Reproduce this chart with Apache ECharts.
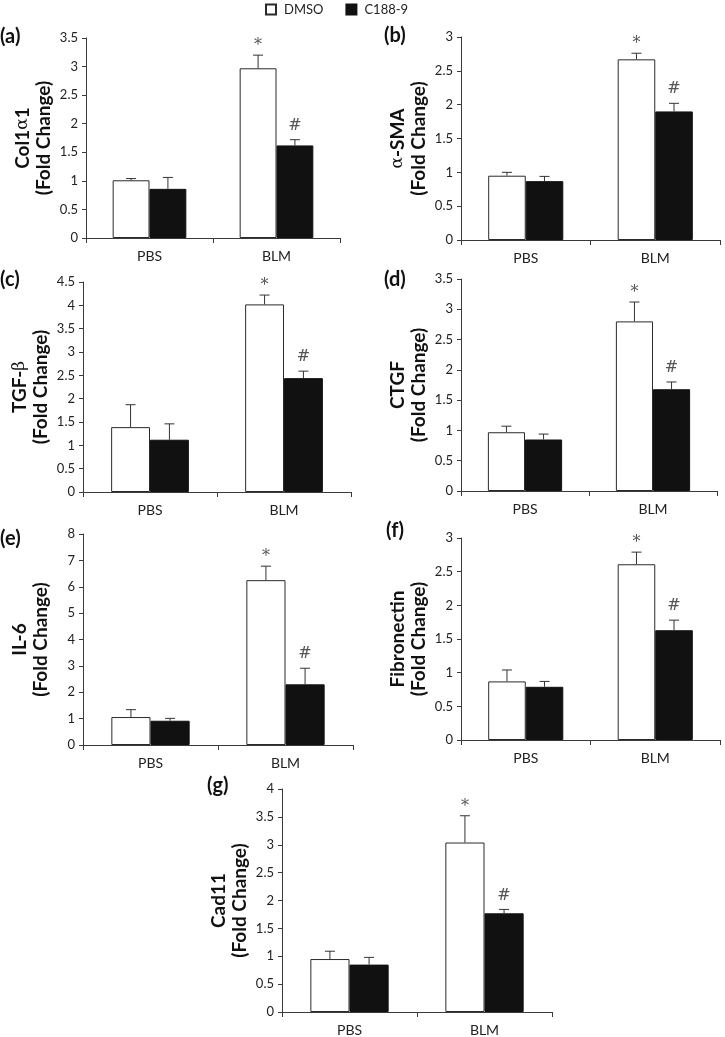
<!DOCTYPE html>
<html>
<head>
<meta charset="utf-8">
<script src="https://cdn.jsdelivr.net/npm/echarts@6/dist/echarts.min.js"></script>
<style>
html,body{margin:0;padding:0;background:#fff;}
#chart{width:725px;height:1037px;}
</style>
</head>
<body>
<div id="chart"></div>
<script>
// ---- data ----
const categories = ['PBS', 'BLM'];
const seriesNames = ['DMSO', 'C188-9'];
const panelLabels = ['(a)', '(b)', '(c)', '(d)', '(e)', '(f)', '(g)'];
const geneNames = ['Col1', 'α-SMA', 'TGF-β', 'CTGF', 'IL-6', 'Fibronectin', 'Cad11'];
const yMax = [3.5, 3, 4.5, 3.5, 8, 3, 4];
const yInterval = [0.5, 0.5, 0.5, 0.5, 1, 0.5, 0.5];

const dmsoA = [1.01, 2.97], dmsoErrA = [0.03, 0.23], c188A = [0.86, 1.62], c188ErrA = [0.20, 0.10];
const dmsoB = [0.95, 2.67], dmsoErrB = [0.05, 0.09], c188B = [0.87, 1.90], c188ErrB = [0.07, 0.12];
const dmsoC = [1.39, 4.02], dmsoErrC = [0.48, 0.20], c188C = [1.12, 2.44], c188ErrC = [0.34, 0.15];
const dmsoD = [0.97, 2.80], dmsoErrD = [0.10, 0.32], c188D = [0.85, 1.68], c188ErrD = [0.09, 0.12];
const dmsoE = [1.06, 6.25], dmsoErrE = [0.28, 0.53], c188E = [0.92, 2.30], c188ErrE = [0.09, 0.61];
const dmsoF = [0.87, 2.61], dmsoErrF = [0.17, 0.18], c188F = [0.79, 1.63], c188ErrF = [0.08, 0.15];
const dmsoG = [0.95, 3.04], dmsoErrG = [0.14, 0.48], c188G = [0.85, 1.77], c188ErrG = [0.13, 0.07];
const sigDmso = ['', '*'];
const sigC188 = ['', '#'];

const dmsoVals = [dmsoA, dmsoB, dmsoC, dmsoD, dmsoE, dmsoF, dmsoG];
const dmsoErrs = [dmsoErrA, dmsoErrB, dmsoErrC, dmsoErrD, dmsoErrE, dmsoErrF, dmsoErrG];
const c188Vals = [c188A, c188B, c188C, c188D, c188E, c188F, c188G];
const c188Errs = [c188ErrA, c188ErrB, c188ErrC, c188ErrD, c188ErrE, c188ErrF, c188ErrG];

// ---- layout ----
const grids = [
  {left: 86, top: 38, width: 254, height: 200},
  {left: 461, top: 37, width: 259, height: 203},
  {left: 83, top: 282, width: 268, height: 210},
  {left: 461, top: 279, width: 256, height: 212},
  {left: 83, top: 534, width: 270, height: 211},
  {left: 461, top: 538, width: 259, height: 202},
  {left: 282, top: 789, width: 270, height: 225}
];
const labelPos = [
  {left: 0, top: 27}, {left: 384, top: 26}, {left: 0, top: 270}, {left: 384, top: 270},
  {left: 0, top: 529}, {left: 386, top: 521}, {left: 207, top: 776}
];

const FONT = 'Lato';
const CAT_GAP = 0.42;
const axisColor = '#3a3a3a';

function nameText(i) {
  const g = geneNames[i];
  let first;
  if (i === 0) first = '{b|Col1}{g|α}{b|1}';
  else if (g.indexOf('α') === 0) first = '{g|α}{b|' + g.slice(1) + '}';
  else if (g.indexOf('β') >= 0) first = '{b|' + g.replace('β', '') + '}{g|β}';
  else first = '{b|' + g + '}';
  return first + '\n{b|(Fold Change)}';
}

function errRender(side, sigs) {
  return function (params, api) {
    const idx = api.value(0);
    const v = api.value(1);
    const e = api.value(2);
    const base = api.coord([idx, v]);
    const top = api.coord([idx, v + e]);
    const band = api.size([1, 0])[0];
    const bw = band * (1 - CAT_GAP) / 2;
    const x = base[0] + side * bw / 2;
    const children = [
      {type: 'line', shape: {x1: x, y1: base[1], x2: x, y2: top[1]}, style: {stroke: '#333', lineWidth: 1}},
      {type: 'line', shape: {x1: x - 5, y1: top[1], x2: x + 5, y2: top[1]}, style: {stroke: '#333', lineWidth: 1}}
    ];
    const s = sigs[params.dataIndex];
    if (s) {
      const off = s === '*' ? 9 : 14;
      children.push({type: 'text', style: {text: s, x: x, y: top[1] - off, align: 'center', verticalAlign: 'middle',
        font: '16px "DejaVu Serif", serif', fill: '#555'}});
    }
    return {type: 'group', children: children};
  };
}

const option = {
  animation: false,
  backgroundColor: '#fff',
  textStyle: {fontFamily: FONT},
  title: panelLabels.map((t, i) => ({text: t, left: labelPos[i].left, top: labelPos[i].top, padding: 0,
    textStyle: {fontFamily: FONT, fontSize: 20, fontWeight: 'bold', color: '#111'}})),
  legend: {
    data: seriesNames, top: 3, left: 265, itemWidth: 10, itemHeight: 10, itemGap: 22, icon: 'rect',
    textStyle: {fontFamily: FONT, fontSize: 13, color: '#222', padding: [0, 0, 0, 3]}, padding: 0
  },
  grid: grids.map(g => Object.assign({containLabel: false}, g)),
  xAxis: grids.map((g, i) => ({
    type: 'category', gridIndex: i, data: categories,
    axisLine: {lineStyle: {color: axisColor, width: 1}},
    axisTick: {show: true, length: 5, lineStyle: {color: axisColor}},
    axisLabel: {fontFamily: FONT, fontSize: 14, color: '#222', margin: 11},
    splitLine: {show: false}
  })),
  yAxis: grids.map((g, i) => ({
    type: 'value', gridIndex: i, min: 0, max: yMax[i], interval: yInterval[i],
    axisLine: {show: true, lineStyle: {color: axisColor, width: 1}},
    axisTick: {show: true, length: 4, lineStyle: {color: axisColor}},
    axisLabel: {fontFamily: FONT, fontSize: 13, color: '#222', margin: 8},
    splitLine: {show: false},
    name: nameText(i), nameLocation: 'middle', nameRotate: 90, nameGap: 32, nameMoveOverlap: false,
    nameTextStyle: {
      lineHeight: 21,
      rich: {
        b: {fontFamily: FONT, fontSize: 19, fontWeight: 'bold', color: '#111', lineHeight: 21},
        g: {fontFamily: '"DejaVu Serif", serif', fontSize: 17, color: '#111', lineHeight: 21}
      }
    }
  })),
  series: []
};

for (let i = 0; i < 7; i++) {
  option.series.push({
    name: 'DMSO', type: 'bar', xAxisIndex: i, yAxisIndex: i, data: dmsoVals[i],
    barGap: '0%', barCategoryGap: (CAT_GAP * 100) + '%',
    itemStyle: {color: '#ffffff', borderColor: '#2a2a2a', borderWidth: 1}
  });
  option.series.push({
    name: 'C188-9', type: 'bar', xAxisIndex: i, yAxisIndex: i, data: c188Vals[i],
    barGap: '0%', barCategoryGap: (CAT_GAP * 100) + '%',
    itemStyle: {color: '#111111', borderColor: '#111111', borderWidth: 1}
  });
  option.series.push({
    type: 'custom', xAxisIndex: i, yAxisIndex: i, z: 5, clip: false,
    renderItem: errRender(-1, sigDmso),
    data: dmsoVals[i].map((v, k) => [k, v, dmsoErrs[i][k]])
  });
  option.series.push({
    type: 'custom', xAxisIndex: i, yAxisIndex: i, z: 5, clip: false,
    renderItem: errRender(1, sigC188),
    data: c188Vals[i].map((v, k) => [k, v, c188Errs[i][k]])
  });
}

const chart = echarts.init(document.getElementById('chart'), null, {renderer: 'canvas'});
chart.setOption(option);
</script>
</body>
</html>
